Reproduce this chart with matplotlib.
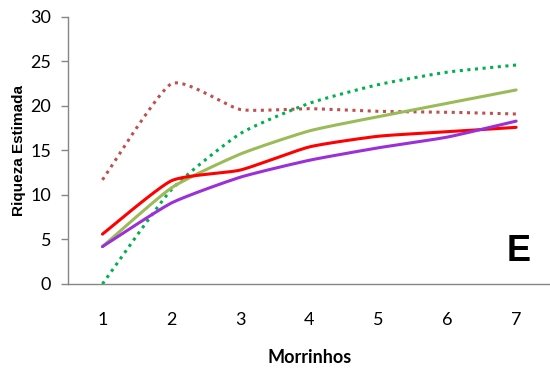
#!/usr/bin/env python3

''' Riqueza estimada por numero de morrinhos '''
import numpy as np
from matplotlib import pyplot as plt

morrinhos = [1, 2, 3, 4, 5, 6, 7]

# estimates per curve
red_solid = [5.6, 11.6, 12.8, 15.4, 16.6, 17.1, 17.6]
olive_solid = [4.2, 10.8, 14.6, 17.2, 18.8, 20.3, 21.8]
purple_solid = [4.2, 9.1, 12.0, 13.9, 15.3, 16.5, 18.3]
green_dotted = [0.0, 10.6, 16.9, 20.3, 22.4, 23.8, 24.6]
red_dotted = [11.7, 22.5, 19.6, 19.7, 19.4, 19.3, 19.1]

yticks = [0, 5, 10, 15, 20, 25, 30]


def smooth(x, y, n=30, k=0.55):
    # cardinal spline through the points, like a smoothed line in a spreadsheet
    x = np.asarray(x, float)
    y = np.asarray(y, float)
    px = np.concatenate([[x[0]], x, [x[-1]]])
    py = np.concatenate([[y[0]], y, [y[-1]]])
    xs, ys = [], []
    t = np.linspace(0, 1, n)
    h00 = 2*t**3 - 3*t**2 + 1
    h10 = t**3 - 2*t**2 + t
    h01 = -2*t**3 + 3*t**2
    h11 = t**3 - t**2
    for i in range(1, len(px) - 2):
        for p, out in ((px, xs), (py, ys)):
            p0, p1, p2, p3 = p[i - 1], p[i], p[i + 1], p[i + 2]
            m1 = k * (p2 - p0) / 2
            m2 = k * (p3 - p1) / 2
            out.extend(h00*p1 + h10*m1 + h01*p2 + h11*m2)
    return np.array(xs), np.array(ys)


fig = plt.figure(figsize=(5.5, 3.69), dpi=100)
ax = fig.add_axes([0.1236, 0.2304, 0.88, 0.7236])

dots = (0, (1, 1.5))
series = [
    (red_dotted, '#C0504D', dots),
    (green_dotted, '#00B050', dots),
    (olive_solid, '#9BBB59', '-'),
    (red_solid, '#FF0000', '-'),
    (purple_solid, '#9B30D9', '-'),
]
for vals, col, ls in series:
    sx, sy = smooth(morrinhos, vals)
    ax.plot(sx, sy, color=col, linestyle=ls, linewidth=2.2,
            solid_capstyle='round', dash_capstyle='butt')

ax.set_xlim(0.5, 7.52)
ax.set_ylim(0, 30)
ax.set_yticks(yticks)
ax.set_xticks(morrinhos)

font = ['Lato', 'DejaVu Sans']
for lab in ax.get_yticklabels() + ax.get_xticklabels():
    lab.set_family(font)
    lab.set_fontsize(13)

ax.tick_params(axis='y', length=5, width=1, color='#868686', pad=7)
ax.tick_params(axis='x', length=0, pad=20)

for s in ['top', 'right']:
    ax.spines[s].set_visible(False)
for s in ['left', 'bottom']:
    ax.spines[s].set_color('#868686')
    ax.spines[s].set_linewidth(1)

ax.set_ylabel('Riqueza Estimada', family='Liberation Sans', fontweight='bold',
              fontsize=11, labelpad=3)
ax.set_xlabel('Morrinhos', family=font, fontweight='bold', fontsize=13, labelpad=15)

ax.text(7.03, 3.6, 'E', family='Liberation Sans', fontweight='bold',
        fontsize=26, ha='center', va='center')

fig.savefig('out.png', dpi=100)
